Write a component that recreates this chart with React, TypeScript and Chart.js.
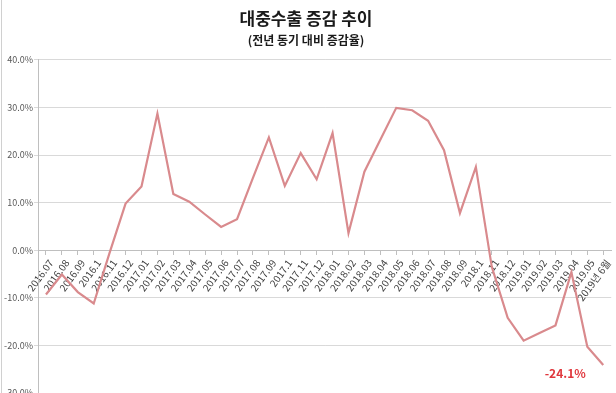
import React, { useEffect, useRef } from "react";
import { Chart, registerables } from "chart.js";

Chart.register(...registerables);

const titleText = "대중수출 증감 추이";
const subtitleText = "(전년 동기 대비 증감율)";

const categories = [
  "2016.07", "2016.08", "2016.09", "2016.1", "2016.11", "2016.12",
  "2017.01", "2017.02", "2017.03", "2017.04", "2017.05", "2017.06",
  "2017.07", "2017.08", "2017.09", "2017.1", "2017.11", "2017.12",
  "2018.01", "2018.02", "2018.03", "2018.04", "2018.05", "2018.06",
  "2018.07", "2018.08", "2018.09", "2018.1", "2018.11", "2018.12",
  "2019.01", "2019.02", "2019.03", "2019.04", "2019.05", "2019년 6월",
];

const growthRates = [
  -9.3, -5.1, -8.8, -11.2, -0.5, 9.8,
  13.4, 28.7, 11.8, 10.2, 7.5, 4.9,
  6.5, 15.2, 23.7, 13.5, 20.4, 14.9,
  24.6, 3.6, 16.5, 23.2, 29.9, 29.4,
  27.2, 21.0, 7.8, 17.5, -3.5, -14.2,
  -19.0, -17.4, -15.8, -4.6, -20.3, -24.1,
];

const yMin = -30;
const yMax = 40;
const yStep = 10;

const lastLabel = "-24.1%";

const FONT = "'Noto Sans CJK KR', 'Noto Sans', sans-serif";

const lastValueLabel = {
  id: "lastValueLabel",
  afterDatasetsDraw(chart: any) {
    const meta = chart.getDatasetMeta(0);
    const pt = meta.data[meta.data.length - 1];
    if (!pt) return;
    const ctx = chart.ctx;
    ctx.save();
    ctx.font = `bold 12px ${FONT}`;
    ctx.fillStyle = "#e0373d";
    ctx.textAlign = "center";
    ctx.textBaseline = "middle";
    ctx.fillText(lastLabel, pt.x - 38, pt.y + 9);
    ctx.restore();
  },
};

const frame = {
  id: "frame",
  beforeDraw(chart: any) {
    const ctx = chart.ctx;
    ctx.save();
    ctx.fillStyle = "#ffffff";
    ctx.fillRect(0, 0, chart.width, chart.height);
    ctx.strokeStyle = "#d0d0d0";
    ctx.lineWidth = 1;
    ctx.beginPath();
    ctx.moveTo(1.5, 0);
    ctx.lineTo(1.5, chart.height);
    ctx.stroke();
    ctx.restore();
  },
};

export default function App() {
  const canvasRef = useRef<HTMLCanvasElement>(null);

  useEffect(() => {
    document.body.style.margin = "0";
    const chart = new Chart(canvasRef.current as HTMLCanvasElement, {
      type: "line",
      data: {
        labels: categories,
        datasets: [
          {
            data: growthRates,
            borderColor: "#d98a8d",
            backgroundColor: "#d98a8d",
            borderWidth: 2.2,
            pointRadius: 0,
            tension: 0,
          },
        ],
      },
      options: {
        animation: false,
        responsive: false,
        maintainAspectRatio: false,
        layout: { padding: { left: 0, right: 4, top: 0, bottom: 0 } },
        plugins: {
          legend: { display: false },
          tooltip: { enabled: false },
          title: {
            display: true,
            text: titleText,
            color: "#1a1a1a",
            font: { family: FONT, size: 17, weight: "bold" },
            padding: { top: 8, bottom: 0 },
          },
          subtitle: {
            display: true,
            text: subtitleText,
            color: "#1a1a1a",
            font: { family: FONT, size: 12, weight: "bold" },
            padding: { top: 5, bottom: 12 },
          },
        },
        scales: {
          x: {
            type: "category",
            position: { y: 0 } as any,
            offset: true,
            grid: {
              display: true,
              drawOnChartArea: false,
              offset: false,
              tickLength: 4,
              tickColor: "#bfbfbf",
            },
            border: { display: true, color: "#bfbfbf" },
            ticks: {
              autoSkip: false,
              minRotation: 54,
              maxRotation: 54,
              padding: 3,
              labelOffset: 5,
              color: "#404040",
              font: { family: FONT, size: 10 },
            },
          },
          y: {
            min: yMin,
            max: yMax,
            grid: {
              color: "#d9d9d9",
              lineWidth: 1,
              tickLength: 4,
              tickColor: "#d9d9d9",
            },
            border: { display: true, color: "#bfbfbf" },
            ticks: {
              stepSize: yStep,
              padding: 1,
              color: "#595959",
              font: { family: FONT, size: 9 },
              callback: (v: any) => `${Number(v).toFixed(1)}%`,
            },
            afterFit: (scale: any) => {
              scale.width = 38;
              scale.paddingTop = 0;
              scale.paddingBottom = 0;
            },
          },
        },
      },
      plugins: [frame, lastValueLabel],
    });
    return () => chart.destroy();
  }, []);

  return (
    <div style={{ position: "fixed", left: 0, top: 0, width: 616, height: 393, overflow: "hidden", background: "#fff" }}>
      <canvas ref={canvasRef} width={616} height={393} style={{ width: 616, height: 393, display: "block" }} />
    </div>
  );
}
